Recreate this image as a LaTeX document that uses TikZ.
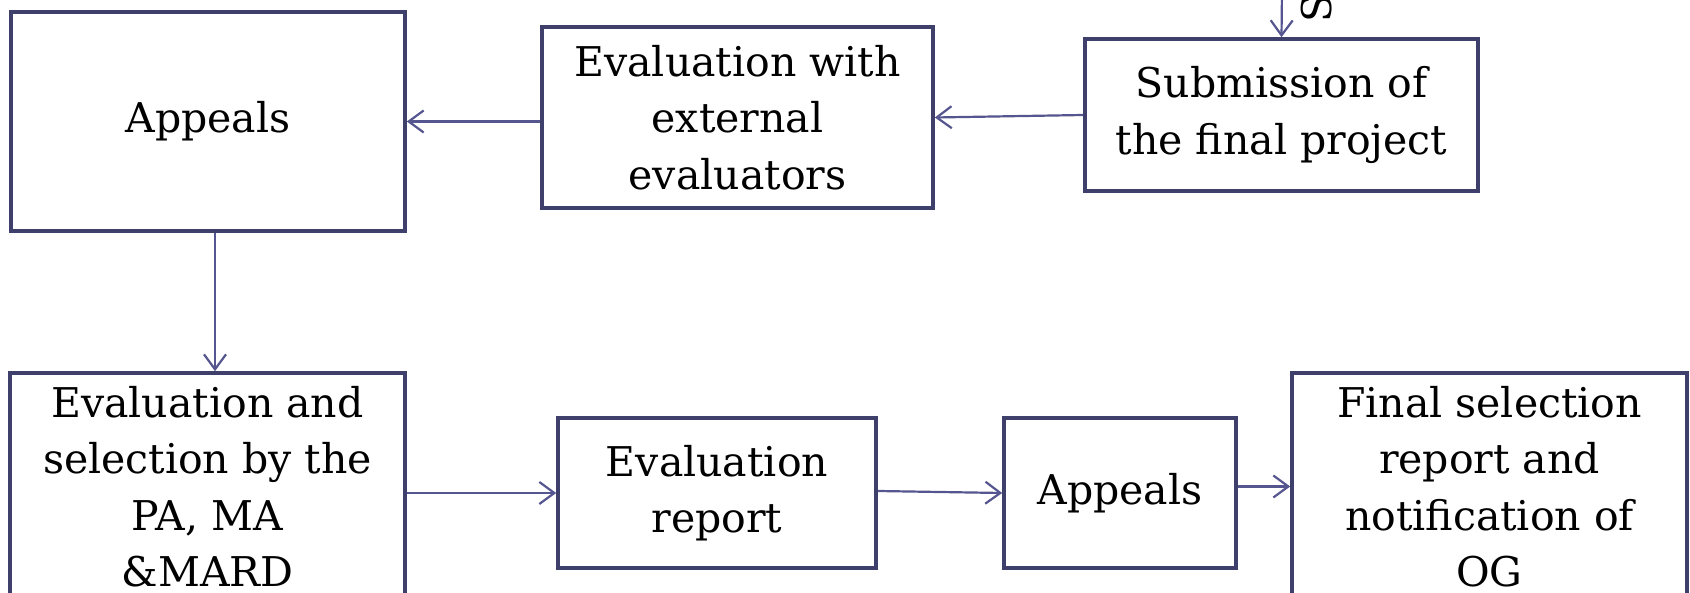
\documentclass[tikz,border=0pt]{standalone}
\usepackage{fontspec}
\setmainfont{DejaVu Serif}
\usetikzlibrary{arrows.meta}

\definecolor{boxline}{HTML}{3F3F6B}
\definecolor{arrline}{HTML}{55558F}

\begin{document}
\begin{tikzpicture}[x=1pt, y=-1pt,
    box/.style={draw=boxline, line width=3.6pt, rectangle, align=center, inner sep=0pt, font=\fontsize{41}{56.5}\selectfont},
    flow/.style={draw=arrline, line width=2.2pt, -{Straight Barb[length=15pt, width=22pt, line width=2.2pt]}}]

    \clip (0,0) rectangle (1690,593);

    % Top row
    \node[box, minimum width=394, minimum height=219] at (208, 121.5) (appealsA) {Appeals};
    \node[box, minimum width=391, minimum height=181] at (737.5, 117.5) (evalExt) {Evaluation with\\external\\evaluators};
    \node[box, minimum width=393, minimum height=152] at (1281.5, 115) (submission) {Submission of\\the final project};

    % Incoming from above
    \coordinate (topIn) at (1282, -10);
    \node[rotate=90, anchor=base west, inner sep=0pt, font=\fontsize{41}{56.5}\selectfont] at (1331, 23) (sideText) {S};

    % Bottom row
    \node[box, minimum width=395, minimum height=227] at (207.5, 486.5) (evalSel) {Evaluation and\\selection by the\\PA, MA\\\&MARD};
    \node[box, minimum width=318, minimum height=150] at (717, 493) (report) {Evaluation\\report};
    \node[box, minimum width=232, minimum height=150] at (1120, 493) (appealsB) {Appeals};
    \node[box, minimum width=395, minimum height=227] at (1489.5, 486.5) (final) {Final selection\\report and\\notification of\\OG};

    % Connections
    \draw[flow] (topIn) -- (submission.north);
    \draw[flow] (submission.west) -- (evalExt.east);
    \draw[flow] (evalExt.west |- appealsA) -- (appealsA.east);
    \draw[flow] ([xshift=7pt]appealsA.south) -- ([xshift=7pt]appealsA.south |- evalSel.north);
    \draw[flow] (evalSel.east |- report) -- (report.west);
    \draw[flow] ([yshift=2pt]report.east) -- (appealsB.west);
    \draw[flow] (appealsB.east |- final) -- (final.west);
\end{tikzpicture}
\end{document}
